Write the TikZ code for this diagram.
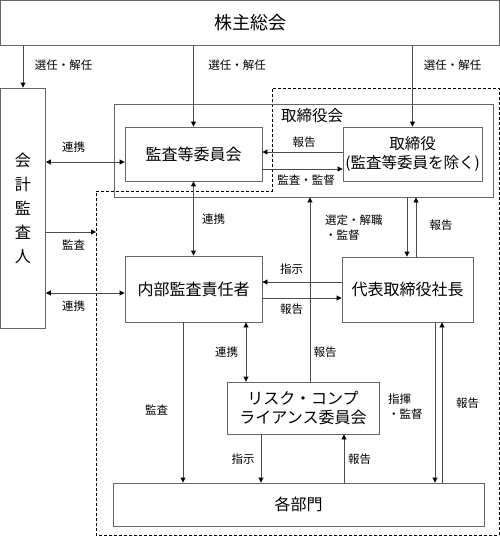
\documentclass[tikz,border=0pt]{standalone}
\usepackage{fontspec}
\setmainfont{Noto Sans CJK JP}
\usetikzlibrary{arrows.meta}
\begin{document}
\begin{tikzpicture}[x=1pt,y=-1pt,
  box/.style={draw=black!60, line width=0.9pt, inner sep=0pt, align=center,
    font=\fontsize{16}{18.5}\selectfont},
  lbl/.style={inner sep=0pt, align=center, font=\fontsize{11.5}{15.5}\selectfont},
  ln/.style={draw=black!70, line width=0.9pt},
  arr/.style={ln, -{Triangle[length=5pt,width=5pt,color=black]}},
  darr/.style={ln, {Triangle[length=5pt,width=5pt,color=black]}-{Triangle[length=5pt,width=5pt,color=black]}},
  dashline/.style={draw=black, line width=0.9pt, dash pattern=on 3pt off 2pt}
]
\useasboundingbox (0,0) rectangle (500,536);

% dashed scope
\draw[dashline] (96,191) -- (272,191) -- (272,88) -- (499,88) -- (499,535) -- (96,535) -- cycle;
\coordinate (auditL) at (96,232);

% boxes
\node[box, minimum width=499pt, minimum height=45pt, font=\fontsize{18}{20}\selectfont] (kabu) at (250,23) {株主総会};
\node[box, minimum width=45pt, minimum height=240pt, font=\fontsize{16}{24}\selectfont] (kaikei) at (23,208) {会\\計\\監\\査\\人};
\node[box, minimum width=379pt, minimum height=93pt] (torikai) at (303.5,150.5) {};
\node[inner sep=0pt, font=\fontsize{15.5}{18.5}\selectfont] (torikailbl) at (312,116) {取締役会};
\node[box, minimum width=137pt, minimum height=54pt] (kansa) at (193.5,154) {監査等委員会};
\node[box, minimum width=139pt, minimum height=54pt, font=\fontsize{15.5}{18.5}\selectfont] (tori) at (412.5,154) {取締役\\(監査等委員を除く)};
\node[box, minimum width=137pt, minimum height=66pt] (naibu) at (193.5,289) {内部監査責任者};
\node[box, minimum width=131pt, minimum height=65pt] (daihyo) at (407.5,289.5) {代表取締役社長};
\node[box, minimum width=152pt, minimum height=52pt] (risk) at (303,408) {リスク・コンプ\\ライアンス委員会};
\node[box, minimum width=371pt, minimum height=43pt] (kakubu) at (298.5,504.5) {各部門};

% connectors
\draw[arr] (kaikei.north |- kabu.south) -- (kaikei.north);
\draw[arr] (kansa.north |- kabu.south) -- (kansa.north);
\draw[arr] (tori.north |- kabu.south) -- (tori.north);
\draw[darr] (kaikei.east |- 0,162) -- (kansa.west |- 0,162);
\draw[arr] (tori.west |- 0,152) -- (kansa.east |- 0,152);
\draw[arr] (kansa.east |- 0,169) -- (tori.west |- 0,169);
\draw[darr] (kansa.south) -- (naibu.north);
\draw[arr] (kaikei.east |- auditL) -- (auditL);
\draw[darr] (kaikei.east |- 0,293) -- (naibu.west |- 0,293);
\draw[arr] (torikai.south -| 407,0) -- (daihyo.north -| 407,0);
\draw[arr] (daihyo.north -| 416,0) -- (torikai.south -| 416,0);
\draw[arr] (risk.north -| 310,0) -- (torikai.south -| 310,0);
\draw[arr] (daihyo.west |- 0,282) -- (naibu.east |- 0,282);
\draw[arr] (naibu.east |- 0,298) -- (daihyo.west |- 0,298);
\draw[arr] (naibu.south -| 183,0) -- (kakubu.north -| 183,0);
\draw[darr] (naibu.south -| 246,0) -- (risk.north -| 246,0);
\draw[arr] (risk.south -| 261,0) -- (kakubu.north -| 261,0);
\draw[arr] (kakubu.north -| 344,0) -- (risk.south -| 344,0);
\draw[arr] (daihyo.south -| 435,0) -- (kakubu.north -| 435,0);
\draw[arr] (kakubu.north -| 442,0) -- (daihyo.south -| 442,0);

% labels
\node[lbl] (l1) at (63.5,65) {選任・解任};
\node[lbl] (l2) at (237,65) {選任・解任};
\node[lbl] (l3) at (452.5,65) {選任・解任};
\node[lbl] (l4) at (73.5,147) {連携};
\node[lbl] (l5) at (73.5,245) {監査};
\node[lbl] (l6) at (73.5,306) {連携};
\node[lbl] (l7) at (213.5,219) {連携};
\node[lbl] (l8) at (304,142) {報告};
\node[lbl] (l9) at (306,180) {監査・監督};
\node[lbl, align=left, anchor=west] (l10) at (325,227.5) {選定・解職\\・監督};
\node[lbl] (l11) at (441,225) {報告};
\node[lbl] (l12) at (291.5,269) {指示};
\node[lbl] (l13) at (291.5,309) {報告};
\node[lbl] (l14) at (325,352) {報告};
\node[lbl] (l15) at (226.5,352) {連携};
\node[lbl] (l16) at (156.5,410) {監査};
\node[lbl, align=left, anchor=west] (l17) at (388,406.5) {指揮\\・監督};
\node[lbl] (l18) at (467.5,403) {報告};
\node[lbl] (l19) at (243,459) {指示};
\node[lbl] (l20) at (359.5,459) {報告};
\end{tikzpicture}
\end{document}
